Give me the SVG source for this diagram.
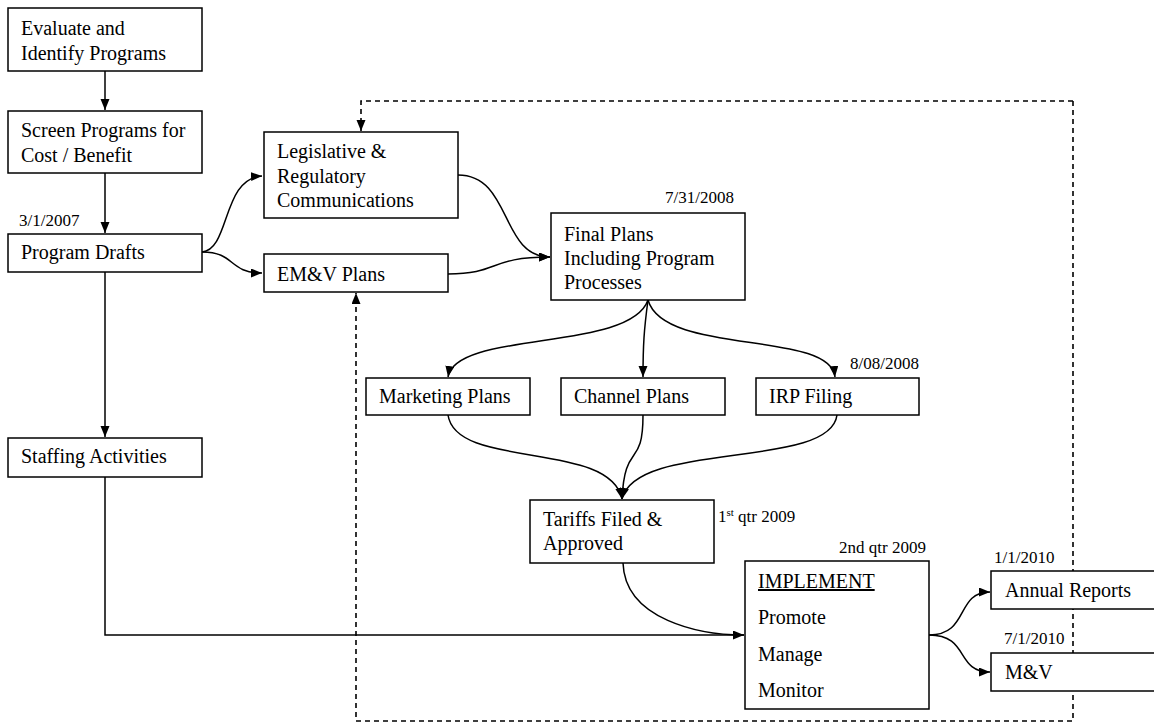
<svg xmlns="http://www.w3.org/2000/svg" width="1154" height="722" viewBox="0 0 1154 722">
<style>
.box{fill:#fff;stroke:#000;stroke-width:1.5}
.t{font-family:"Liberation Serif","Times New Roman",serif;font-size:20px;fill:#000}
.d{font-family:"Liberation Serif","Times New Roman",serif;font-size:17px;fill:#000}
.c{fill:none;stroke:#000;stroke-width:1.5}
.dash{fill:none;stroke:#000;stroke-width:1.6;stroke-dasharray:5 4}
</style>
<defs>
<marker id="ah" markerUnits="userSpaceOnUse" markerWidth="12" markerHeight="10" refX="11" refY="4.5" orient="auto">
<path d="M0,0 L11,4.5 L0,9 z" fill="#000"/>
</marker>
</defs>
<rect width="1154" height="722" fill="#fff"/>
<g id="connectors">
<path class="dash" d="M1073,101 L361,101 L361,131" marker-end="url(#ah)"/>
<path class="dash" d="M1073,101 L1073,721 L356,721 L356,293" marker-end="url(#ah)"/>
<path class="c" d="M105,71 L105,110" marker-end="url(#ah)"/>
<path class="c" d="M105,173 L105,233" marker-end="url(#ah)"/>
<path class="c" d="M105,272 L105,437" marker-end="url(#ah)"/>
<path class="c" d="M105,477 L105,635 L744,635" marker-end="url(#ah)"/>
<path class="c" d="M202,252 C230,250 222,178 262,176" marker-end="url(#ah)"/>
<path class="c" d="M202,252 C236,252 228,273 262,273" marker-end="url(#ah)"/>
<path class="c" d="M458,175 C512,175 500,257 550,257" marker-end="url(#ah)"/>
<path class="c" d="M448,274 C500,274 488,257 550,257" marker-end="url(#ah)"/>
<path class="c" d="M648,300 C630,352 456,330 448,377" marker-end="url(#ah)"/>
<path class="c" d="M648,300 C644,330 643,345 643,377" marker-end="url(#ah)"/>
<path class="c" d="M648,300 C664,356 830,330 835,377" marker-end="url(#ah)"/>
<path class="c" d="M448,415 C456,470 610,440 622,499" marker-end="url(#ah)"/>
<path class="c" d="M643,415 C643,470 625,440 622,499" marker-end="url(#ah)"/>
<path class="c" d="M837,415 C830,470 636,440 622,499" marker-end="url(#ah)"/>
<path class="c" d="M623,563 C625,620 700,635 744,635"/>
<path class="c" d="M929,635 C970,635 955,592 990,592" marker-end="url(#ah)"/>
<path class="c" d="M929,635 C970,635 955,672 990,672" marker-end="url(#ah)"/>
</g>
<g id="evaluate">
<rect class="box" x="8" y="8" width="194" height="63"/>
<text class="t" x="21" y="35">Evaluate and</text>
<text class="t" x="21" y="60">Identify Programs</text>
</g>
<g id="screen">
<rect class="box" x="8" y="111" width="194" height="62"/>
<text class="t" x="21" y="137">Screen Programs for</text>
<text class="t" x="21" y="162">Cost / Benefit</text>
</g>
<g id="drafts">
<text class="d" x="19" y="226">3/1/2007</text>
<rect class="box" x="8" y="234" width="194" height="38"/>
<text class="t" x="21" y="259">Program Drafts</text>
</g>
<g id="staffing">
<rect class="box" x="8" y="438" width="194" height="39"/>
<text class="t" x="21" y="463">Staffing Activities</text>
</g>
<g id="legislative">
<rect class="box" x="264" y="132" width="194" height="86"/>
<text class="t" x="277" y="158">Legislative &amp;</text>
<text class="t" x="277" y="183">Regulatory</text>
<text class="t" x="277" y="207">Communications</text>
</g>
<g id="emv">
<rect class="box" x="264" y="254" width="184" height="38"/>
<text class="t" x="277" y="281">EM&amp;V Plans</text>
</g>
<g id="final">
<text class="d" x="665" y="203">7/31/2008</text>
<rect class="box" x="551" y="213" width="194" height="87"/>
<text class="t" x="564" y="241">Final Plans</text>
<text class="t" x="564" y="265">Including Program</text>
<text class="t" x="564" y="289">Processes</text>
</g>
<g id="marketing">
<rect class="box" x="366" y="378" width="164" height="37"/>
<text class="t" x="379" y="403">Marketing Plans</text>
</g>
<g id="channel">
<rect class="box" x="561" y="378" width="164" height="37"/>
<text class="t" x="574" y="403">Channel Plans</text>
</g>
<g id="irp">
<text class="d" x="850" y="369">8/08/2008</text>
<rect class="box" x="756" y="378" width="163" height="37"/>
<text class="t" x="769" y="403">IRP Filing</text>
</g>
<g id="tariffs">
<rect class="box" x="530" y="500" width="184" height="63"/>
<text class="t" x="543" y="526">Tariffs Filed &amp;</text>
<text class="t" x="543" y="550">Approved</text>
<text class="d" x="718" y="522">1<tspan font-size="11" dy="-6">st</tspan><tspan dy="6"> qtr 2009</tspan></text>
</g>
<g id="implement">
<text class="d" x="839" y="553">2nd qtr 2009</text>
<rect class="box" x="745" y="561" width="184" height="148"/>
<text class="t" x="758" y="588" text-decoration="underline">IMPLEMENT</text>
<text class="t" x="758" y="624">Promote</text>
<text class="t" x="758" y="661">Manage</text>
<text class="t" x="758" y="697">Monitor</text>
</g>
<g id="annual">
<text class="d" x="994" y="563">1/1/2010</text>
<rect class="box" x="991" y="571" width="170" height="38"/>
<text class="t" x="1005" y="597">Annual Reports</text>
</g>
<g id="mv">
<text class="d" x="1004" y="644">7/1/2010</text>
<rect class="box" x="991" y="653" width="170" height="38"/>
<text class="t" x="1005" y="679">M&amp;V</text>
</g>
</svg>
